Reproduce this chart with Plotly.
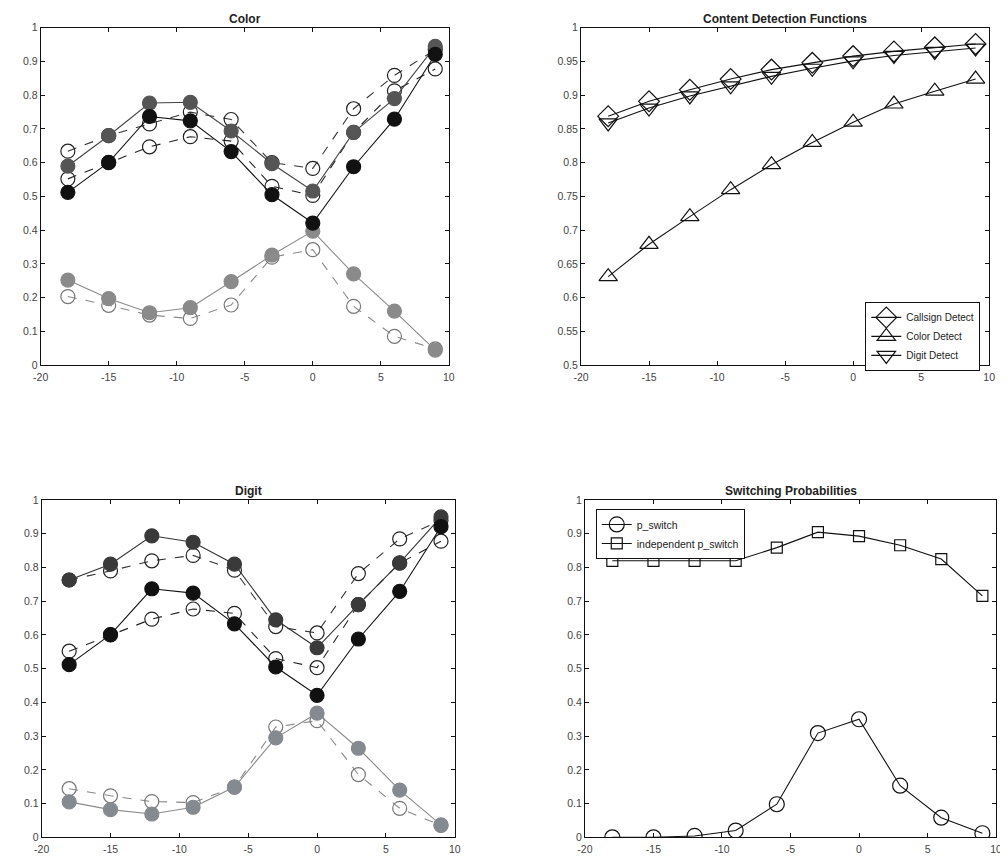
import plotly.graph_objects as go

# ---------------- data ----------------
snr = [-18, -15, -12, -9, -6, -3, 0, 3, 6, 9]

# shared black pair (appears in both Color and Digit panels)
base_model = [0.512, 0.601, 0.737, 0.724, 0.633, 0.505, 0.421, 0.588, 0.729, 0.921]
base_data = [0.552, 0.600, 0.647, 0.677, 0.664, 0.530, 0.503, 0.690, 0.813, 0.878]

color_model = [0.590, 0.680, 0.777, 0.779, 0.694, 0.597, 0.516, 0.690, 0.790, 0.945]
color_data = [0.634, 0.680, 0.715, 0.750, 0.728, 0.600, 0.583, 0.760, 0.859, 0.935]
color_low_model = [0.252, 0.197, 0.155, 0.170, 0.247, 0.326, 0.397, 0.270, 0.160, 0.044]
color_low_data = [0.203, 0.177, 0.148, 0.138, 0.178, 0.320, 0.342, 0.174, 0.085, 0.048]

digit_model = [0.763, 0.810, 0.894, 0.875, 0.810, 0.645, 0.562, 0.690, 0.814, 0.950]
digit_data = [0.763, 0.790, 0.820, 0.836, 0.792, 0.625, 0.606, 0.782, 0.885, 0.940]
digit_low_model = [0.105, 0.082, 0.069, 0.089, 0.149, 0.295, 0.368, 0.264, 0.140, 0.037]
digit_low_data = [0.144, 0.123, 0.106, 0.103, 0.149, 0.327, 0.346, 0.186, 0.086, 0.035]

callsign_detect = [0.869, 0.891, 0.908, 0.924, 0.938, 0.948, 0.958, 0.965, 0.971, 0.976]
color_detect = [0.631, 0.679, 0.720, 0.760, 0.797, 0.830, 0.860, 0.887, 0.906, 0.924]
digit_detect = [0.859, 0.881, 0.899, 0.914, 0.928, 0.940, 0.951, 0.959, 0.965, 0.970]

p_switch = [0.000, 0.000, 0.004, 0.020, 0.098, 0.309, 0.350, 0.153, 0.058, 0.012]
indep_p_switch = [0.820, 0.820, 0.820, 0.820, 0.859, 0.905, 0.893, 0.866, 0.825, 0.716]

titles = ["Color", "Content Detection Functions", "Digit", "Switching Probabilities"]
x_ticks = [-20, -15, -10, -5, 0, 5, 10]
y_ticks01 = [0, 0.1, 0.2, 0.3, 0.4, 0.5, 0.6, 0.7, 0.8, 0.9, 1]
y_ticks01_text = ["0", "0.1", "0.2", "0.3", "0.4", "0.5", "0.6", "0.7", "0.8", "0.9", "1"]
y_ticks_det = [0.5, 0.55, 0.6, 0.65, 0.7, 0.75, 0.8, 0.85, 0.9, 0.95, 1]
y_ticks_det_text = ["0.5", "0.55", "0.6", "0.65", "0.7", "0.75", "0.8", "0.85", "0.9", "0.95", "1"]

# page body has an 8px default margin: lay out in screen pixels, converted to paper
OFF = 8
W, H = 1000, 855
FONT = "Liberation Sans, Arial, sans-serif"


def dom_x(a, b):
    return [max(0, (a - OFF) / W), min(1, (b - OFF) / W)]


def dom_y(top, bottom):
    return [max(0, 1 - (bottom - OFF) / H), min(1, 1 - (top - OFF) / H)]


fig = go.Figure()


def add(xa, ya, y, color, dash, filled, lc, size=14, name=None, legend=None, symbol="circle", lw=1.1):
    fig.add_trace(go.Scatter(
        x=snr, y=y, xaxis=xa, yaxis=ya, mode="lines+markers",
        line=dict(color=lc, width=lw, dash=dash),
        marker=dict(symbol=symbol if filled else symbol + "-open", size=size,
                    color=color, line=dict(color=color, width=1.2)),
        showlegend=name is not None, name=name or "", legend=legend or "legend",
        hoverinfo="skip"))


# Color panel (x, y)
add("x", "y", color_low_data, "#777777", "dash", False, "#8a8a8a")
add("x", "y", color_low_model, "#8a8a8a", "solid", True, "#8a8a8a")
add("x", "y", color_data, "#222222", "dash", False, "#333333")
add("x", "y", base_data, "#222222", "dash", False, "#222222")
add("x", "y", color_model, "#555555", "solid", True, "#444444")
add("x", "y", base_model, "#111111", "solid", True, "#111111")

# Digit panel (x3, y3)
add("x3", "y3", digit_low_data, "#777777", "dash", False, "#8a8a8a")
add("x3", "y3", digit_low_model, "#858a90", "solid", True, "#8a8a8a")
add("x3", "y3", digit_data, "#222222", "dash", False, "#333333")
add("x3", "y3", base_data, "#222222", "dash", False, "#222222")
add("x3", "y3", digit_model, "#3a3a3a", "solid", True, "#333333")
add("x3", "y3", base_model, "#111111", "solid", True, "#111111")

# Content detection (x2, y2)
add("x2", "y2", callsign_detect, "#111111", "solid", False, "#111111", size=16,
    name="Callsign Detect", legend="legend", symbol="diamond")
add("x2", "y2", color_detect, "#111111", "solid", False, "#111111", size=16,
    name="Color Detect", legend="legend", symbol="triangle-up")
add("x2", "y2", digit_detect, "#111111", "solid", False, "#111111", size=16,
    name="Digit Detect", legend="legend", symbol="triangle-down")

# Switching (x4, y4)
add("x4", "y4", p_switch, "#111111", "solid", False, "#111111", size=15,
    name="p_switch", legend="legend2", symbol="circle")
add("x4", "y4", indep_p_switch, "#111111", "solid", False, "#111111", size=11,
    name="independent p_switch", legend="legend2", symbol="square")

axis_common = dict(showline=True, linecolor="#111111", linewidth=1, mirror="ticks",
                   ticks="inside", ticklen=4, tickcolor="#111111", showgrid=False,
                   zeroline=False, tickfont=dict(family=FONT, size=10.5, color="#444444"))

panels = {
    "1": dict(xd=dom_x(33, 447), yd=dom_y(22, 364), yr=[0, 1], yt=(y_ticks01, y_ticks01_text)),
    "2": dict(xd=dom_x(581, 995), yd=dom_y(22, 364), yr=[0.5, 1], yt=(y_ticks_det, y_ticks_det_text)),
    "3": dict(xd=dom_x(34, 453), yd=dom_y(501, 843), yr=[0, 1], yt=(y_ticks01, y_ticks01_text)),
    "4": dict(xd=dom_x(585, 1002), yd=dom_y(501, 843), yr=[0, 1], yt=(y_ticks01, y_ticks01_text)),
}

layout = dict(width=W, height=H, margin=dict(l=0, r=0, t=0, b=0),
              plot_bgcolor="white", paper_bgcolor="white", showlegend=True)
for k, p in panels.items():
    sx = "" if k == "1" else k
    layout["xaxis" + sx] = dict(axis_common, domain=p["xd"], range=[-20, 10],
                                tickvals=x_ticks, ticktext=[str(v) for v in x_ticks],
                                anchor="y" + sx, ticklabelstandoff=2)
    layout["yaxis" + sx] = dict(axis_common, domain=p["yd"], range=p["yr"],
                                tickvals=p["yt"][0], ticktext=p["yt"][1], anchor="x" + sx)

layout["legend"] = dict(x=(986 - OFF) / W, y=1 - (335 - OFF) / H, xanchor="right", yanchor="middle",
                        bgcolor="white", bordercolor="#111111", borderwidth=1,
                        font=dict(family=FONT, size=10, color="#222222"),
                        tracegroupgap=0, itemwidth=30)
layout["legend2"] = dict(x=(596 - OFF) / W, y=1 - (510 - OFF) / H, xanchor="left", yanchor="top",
                         bgcolor="white", bordercolor="#111111", borderwidth=1,
                         font=dict(family=FONT, size=10.5, color="#222222"),
                         tracegroupgap=0, itemwidth=30)

annotations = []
for k, t in zip(["1", "2", "3", "4"], titles):
    p = panels[k]
    annotations.append(dict(text="<b>" + t + "</b>", x=(p["xd"][0] + p["xd"][1]) / 2,
                            y=p["yd"][1], xref="paper", yref="paper", xanchor="center",
                            yanchor="bottom", yshift=0, showarrow=False,
                            font=dict(family=FONT, size=12, color="#222222")))
layout["annotations"] = annotations

fig.update_layout(**layout)
fig.write_html("out.html")
